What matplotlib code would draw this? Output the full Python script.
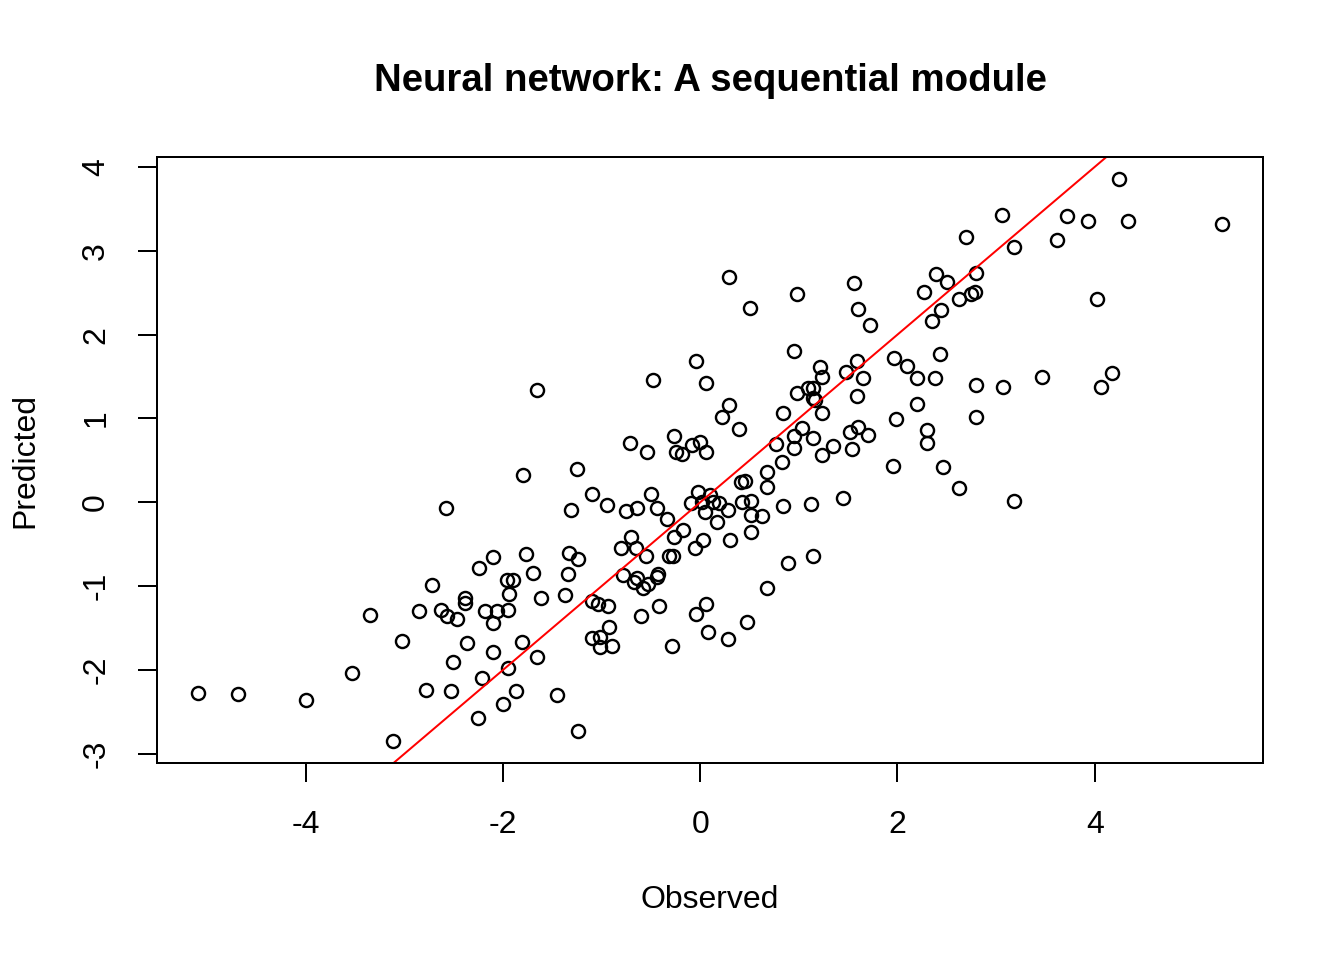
import matplotlib
matplotlib.use("Agg")
import matplotlib.pyplot as plt

# observed vs predicted values
observed = [
    -5.09, -4.68, -3.99, -3.53, -3.35, -3.11, -3.02, -2.85, -2.78, -2.72,
    -2.63, -2.57, -2.46, -2.38, -2.38, -2.24, -2.10, -1.77, -1.69, -1.96,
    -1.90, -1.94, -2.18, -2.06, -1.95, -2.10, -1.61, -1.37, -1.34, -1.33,
    -1.24, -1.10, -1.04, -0.93, -0.92, -1.10, -1.01, -1.01, -0.89, -0.29,
    -2.36, -2.50, -2.10, -1.81, -1.65, -1.95, -2.21, -2.53, -1.87, -2.00,
    -2.25, -1.45, -1.24,
    -1.80, -1.25, -2.58, -1.31, -1.10, -0.94, -0.75, -0.64, -0.50, -0.44,
    -0.34, -0.02, -0.09, 0.02, 0.05, -0.17, -0.26, 0.03, -0.05, -0.70,
    -0.80, -0.65, -0.55, -0.32, -0.28, -0.78, -0.67, -0.64, -0.58, -0.53,
    -0.44, -0.43, -0.42, -0.60, -0.04, 0.06, 0.08,
    0.10, 0.13, 0.19, 0.28, 0.17, 0.42, 0.52, 0.41, 0.45, 0.68,
    0.68, 0.52, 0.63, 0.52, 0.30,
    2.62, 1.45, 1.12, 0.84, 0.89, 1.14, 0.68, 0.47, 0.28,
    -1.65, -0.48, -0.04, -0.26, -0.71, -0.54, -0.24, -0.18, -0.08, 0.00,
    0.06, 0.06,
    0.29, 0.51, 0.98, 1.56, 1.60, 1.72, 2.69, 2.39, 2.50, 2.27,
    2.80, 2.75, 2.79, 2.62, 2.44, 2.35, 0.95, 0.29, 0.22, 0.39,
    0.84, 0.98, 1.09, 1.14, 1.14, 1.16, 1.22, 1.24, 1.24, 1.03,
    0.95, 1.14, 0.95, 0.77, 0.83, 1.35, 1.24, 1.54, 1.52, 1.60,
    1.70, 1.48, 1.59, 1.65, 1.59, 1.97, 2.10, 2.20, 2.38, 2.43,
    2.20, 1.99, 2.30, 2.30, 1.95, 2.46, 2.80, 2.80,
    4.25, 3.06, 3.72, 3.93, 4.34, 5.29, 3.18, 3.62, 4.02, 3.47,
    3.07, 4.06, 4.17, 3.18,
]
predicted = [
    -2.27, -2.29, -2.36, -2.03, -1.34, -2.84, -1.65, -1.30, -2.24, -0.99,
    -1.28, -1.35, -1.39, -1.14, -1.20, -0.78, -0.65, -0.61, -0.84, -0.93,
    -0.93, -1.09, -1.30, -1.30, -1.28, -1.44, -1.14, -1.11, -0.86, -0.60,
    -0.67, -1.18, -1.21, -1.23, -1.49, -1.62, -1.60, -1.72, -1.71, -1.71,
    -1.68, -1.90, -1.79, -1.67, -1.84, -1.98, -2.10, -2.25, -2.25, -2.41,
    -2.57, -2.30, -2.73,
    0.33, 0.40, -0.07, -0.09, 0.10, -0.03, -0.10, -0.07, 0.10, -0.07,
    -0.20, 0.12, -0.01, 0.01, -0.12, -0.33, -0.41, -0.45, -0.55, -0.41,
    -0.54, -0.55, -0.64, -0.64, -0.64, -0.87, -0.95, -0.90, -1.02, -0.97,
    -0.89, -0.86, -1.23, -1.36, -1.33, -1.21, -1.55,
    0.09, 0.01, -0.01, -0.09, -0.23, 0.01, 0.02, 0.24, 0.26, 0.18,
    0.36, -0.15, -0.16, -0.35, -0.45,
    0.17, 0.05, -0.02, -0.04, -0.72, -0.64, -1.02, -1.43, -1.63,
    1.34, 1.46, 1.69, 0.79, 0.71, 0.60, 0.60, 0.58, 0.68, 0.72,
    0.60, 1.42,
    2.69, 2.32, 2.49, 2.61, 2.30, 2.11, 3.16, 2.72, 2.63, 2.51,
    2.73, 2.48, 2.51, 2.42, 2.29, 2.16, 1.81, 1.16, 1.02, 0.87,
    1.06, 1.30, 1.36, 1.36, 1.24, 1.22, 1.61, 1.49, 1.06, 0.89,
    0.79, 0.77, 0.65, 0.70, 0.48, 0.67, 0.56, 0.64, 0.84, 0.90,
    0.80, 1.56, 1.69, 1.48, 1.27, 1.72, 1.63, 1.48, 1.48, 1.77,
    1.17, 0.99, 0.86, 0.71, 0.43, 0.42, 1.40, 1.02,
    3.85, 3.43, 3.42, 3.35, 3.36, 3.32, 3.05, 3.13, 2.42, 1.49,
    1.37, 1.37, 1.54, 0.02,
]

x_ticks = [-4, -2, 0, 2, 4]
y_ticks = [-3, -2, -1, 0, 1, 2, 3, 4]

plt.rcParams["font.family"] = ["Liberation Sans", "DejaVu Sans"]
plt.rcParams["axes.unicode_minus"] = False

W, H = 1344, 960
fig = plt.figure(figsize=(7, 5), dpi=192)
ax = fig.add_axes([157 / W, 1 - 763 / H, (1263 - 157) / W, (763 - 157) / H])

ax.plot(observed, predicted, linestyle="none", marker="o", mfc="none",
        mec="black", ms=4.9, mew=0.9)
ax.margins(0.04)
ax.axline((0, 0), slope=1, color="red", lw=0.75)

ax.set_xticks(x_ticks)
ax.set_yticks(y_ticks)
ax.set_xticklabels([str(v) for v in x_ticks])
ax.set_yticklabels([str(v) for v in y_ticks], rotation=90, va="center")
ax.tick_params(direction="out", length=7.2, width=0.75, labelsize=12,
               colors="black")
ax.tick_params(axis="x", pad=10.5)
ax.tick_params(axis="y", pad=10)
for s in ax.spines.values():
    s.set_linewidth(0.75)

fig.text(710 / W, 1 - 81 / H, "Neural network: A sequential module",
         ha="center", va="center", fontsize=14.4, fontweight="bold")
fig.text(710 / W, 1 - 900 / H, "Observed", ha="center", va="center",
         fontsize=12)
fig.text(25 / W, 1 - 460 / H, "Predicted", ha="center", va="center",
         fontsize=12, rotation=90)

fig.savefig("out.png", dpi=192)
